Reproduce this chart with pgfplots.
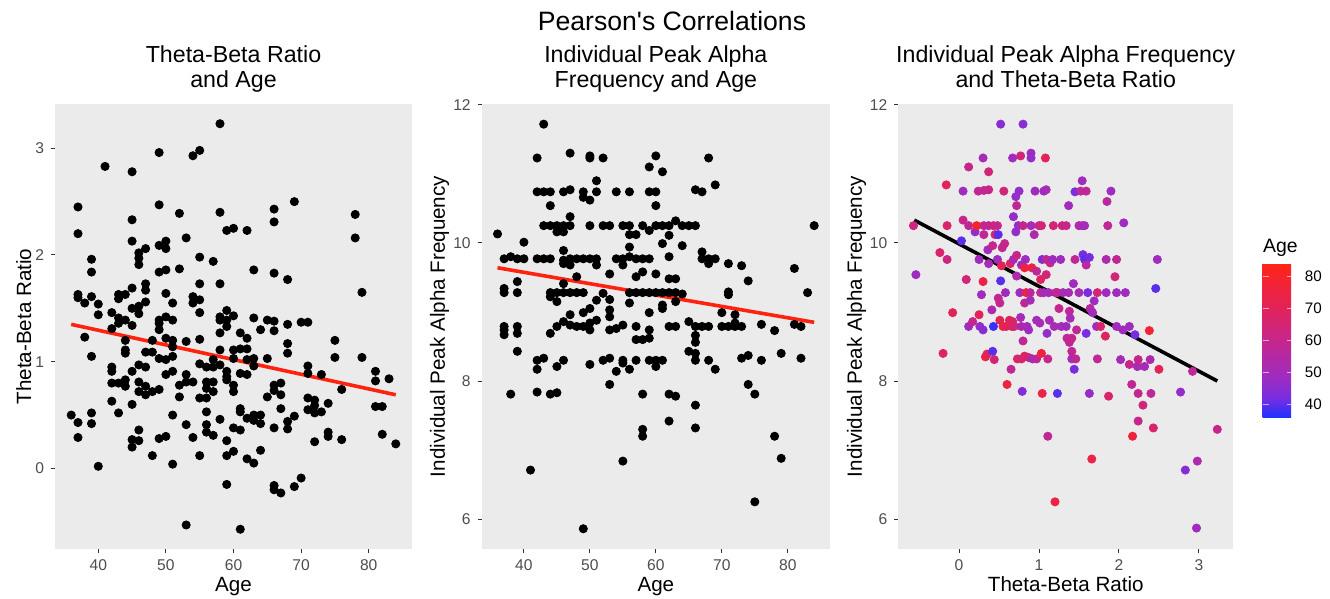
\documentclass[border=0pt]{standalone}
\usepackage{fontspec}
\setmainfont{Liberation Sans}
\usepackage{pgfplots}
\usepackage{pgfplotstable}
\pgfplotsset{compat=1.18}

\definecolor{panelbg}{RGB}{235,235,235}
\definecolor{tickgray}{RGB}{51,51,51}
\definecolor{labgray}{RGB}{77,77,77}
\definecolor{fitred}{RGB}{255,35,15}

\pgfplotsset{
  colormap={agecol}{rgb255(0pt)=(30,50,255); rgb255(1pt)=(120,45,225); rgb255(2pt)=(155,45,195);
    rgb255(4pt)=(198,38,140); rgb255(6pt)=(230,35,80); rgb255(7pt)=(243,35,52); rgb255(8pt)=(255,38,20)},
  colorbar shift/.style={},
  /pgf/number format/assume math mode=true,
  ggpanel/.style={
    scale only axis, height=222.5pt,
    axis background/.style={fill=panelbg},
    axis line style={draw=none},
    tick pos=left, tick align=outside, major tick length=2pt,
    tick style={draw=tickgray, line width=0.5pt},
    tick label style={font=\fontsize{7.8}{9}\selectfont, text=labgray},
    label style={font=\fontsize{10.3}{12}\selectfont},
    xlabel style={at={(axis description cs:0.5,-0.096)}, anchor=base},
    title style={font=\fontsize{11.6}{12.5}\selectfont, align=center,
      at={(axis description cs:0.5,1)}, anchor=south, inner sep=0pt, text depth=0pt, yshift=2pt},
  },
  dots/.style={only marks, mark=*, mark size=2.05pt, black},
  fit/.style={line width=1.8pt, no marks},
}

% age vs theta-beta ratio
\pgfplotstableread{
age tbr
36 0.50
37 2.45
37 2.20
37 1.63
37 1.60
37 0.43
37 0.29
38 1.55
38 1.23
39 1.96
39 1.84
39 1.61
39 1.05
39 0.52
39 0.42
40 1.54
40 1.44
40 0.02
41 2.83
42 1.46
42 1.31
42 0.95
42 0.91
42 0.80
42 0.63
43 1.63
43 1.59
43 1.41
43 1.36
43 0.80
43 0.52
44 1.63
44 1.39
44 1.20
44 1.11
44 1.08
44 0.83
44 0.77
45 2.78
45 2.33
45 2.13
45 1.69
45 1.50
45 1.34
45 0.91
45 0.60
45 0.27
45 0.20
46 2.02
46 1.97
46 1.91
46 1.52
46 1.45
46 0.97
46 0.81
46 0.72
46 0.36
46 0.26
47 2.06
47 1.73
47 1.67
47 1.56
47 1.09
47 0.95
47 0.77
47 0.69
48 1.20
48 1.09
48 0.72
48 0.12
49 2.96
49 2.47
49 2.09
49 1.84
49 1.39
49 1.36
49 1.30
49 1.03
49 0.74
49 0.28
50 2.13
50 2.06
50 1.86
50 1.64
50 1.42
50 1.22
50 1.02
50 0.88
50 0.30
51 1.55
51 1.39
51 1.20
51 1.14
51 1.05
51 0.91
51 0.50
51 0.04
52 2.39
52 1.87
52 0.78
52 0.67
53 2.16
53 1.19
53 0.88
53 0.81
53 0.41
53 -0.53
54 2.93
54 1.61
54 1.55
54 0.81
54 0.29
55 2.98
55 1.98
55 1.73
55 1.58
55 1.46
55 1.21
55 0.98
55 0.66
55 0.12
56 0.95
56 0.81
56 0.75
56 0.66
56 0.53
56 0.41
56 0.34
57 1.94
57 1.02
57 0.95
57 0.81
57 0.72
57 0.31
58 3.23
58 2.40
58 1.73
58 1.42
58 1.39
58 1.27
58 1.11
58 0.97
58 0.46
59 2.23
59 1.48
59 1.39
59 1.33
59 0.91
59 0.86
59 0.83
59 0.26
59 0.12
59 -0.15
60 2.25
60 1.43
60 1.11
60 1.03
60 0.78
60 0.72
60 0.38
60 0.16
61 1.27
61 1.12
61 0.89
61 0.56
61 0.53
61 0.36
61 -0.57
62 2.23
62 1.22
62 1.12
62 1.02
62 0.88
62 0.47
62 0.09
63 1.86
63 1.41
63 1.03
63 0.96
63 0.50
63 0.45
63 0.05
64 1.30
64 0.50
64 0.42
64 0.17
65 1.39
65 1.03
65 0.67
66 2.43
66 2.31
66 1.83
66 1.38
66 1.29
66 0.78
66 0.73
66 0.38
66 -0.16
66 -0.20
67 0.80
67 0.69
67 0.56
67 -0.23
68 1.77
68 1.35
68 1.17
68 1.08
68 0.44
68 0.37
69 2.50
69 0.49
69 -0.17
70 1.37
70 -0.09
71 1.37
71 0.96
71 0.89
71 0.66
71 0.55
72 0.64
72 0.59
72 0.52
72 0.25
73 0.88
73 0.53
74 0.61
74 0.34
74 0.30
75 1.20
75 1.04
76 0.74
76 0.27
78 2.38
78 2.16
79 1.65
79 1.04
81 0.91
81 0.82
81 0.58
82 0.58
82 0.32
83 0.84
84 0.23
}\tbrage

% age vs individual peak alpha frequency
\pgfplotstableread{
age iapf
36 10.13
37 9.77
37 9.34
37 9.28
37 8.79
37 8.74
37 8.67
38 9.80
38 7.81
39 9.77
39 9.44
39 9.28
39 8.79
39 8.69
39 8.43
40 10.01
40 9.77
41 6.71
42 11.23
42 10.74
42 9.77
42 8.30
42 8.17
42 7.84
43 11.72
43 10.74
43 10.25
43 9.77
43 8.33
44 10.74
44 10.54
44 10.25
44 9.77
44 9.28
44 9.22
44 8.69
44 7.81
45 10.25
45 10.16
45 9.28
45 9.15
45 8.79
45 8.21
45 7.83
46 10.74
46 10.25
46 10.16
46 9.89
46 9.75
46 9.70
46 9.41
46 9.28
46 8.86
46 8.30
47 11.30
47 10.77
47 10.38
47 10.25
47 9.77
47 9.68
47 9.28
47 8.96
47 8.81
48 9.77
48 9.51
48 9.28
48 8.79
49 10.74
49 10.66
49 9.77
49 9.28
49 8.99
49 8.79
49 5.86
50 11.26
50 11.23
50 10.62
50 10.25
50 9.77
50 9.05
50 8.84
50 8.74
50 8.24
51 10.90
51 10.74
51 9.77
51 9.68
51 9.17
51 8.88
52 11.23
52 10.25
52 9.27
52 8.30
53 10.25
53 9.55
53 9.18
53 9.03
53 8.93
53 8.74
53 8.33
53 7.95
54 10.74
54 9.77
54 8.76
54 8.14
55 10.25
55 9.77
55 9.68
55 8.81
55 8.30
55 8.26
55 6.84
56 10.74
56 10.25
56 10.12
56 9.94
56 9.80
56 9.28
56 9.13
56 8.17
57 10.12
57 9.77
57 9.51
57 9.28
57 8.79
57 8.60
57 8.30
58 10.25
58 9.77
58 9.58
58 9.28
58 8.60
58 7.81
58 7.30
58 7.20
59 11.10
59 10.74
59 10.18
59 9.77
59 9.28
59 8.99
59 8.74
59 8.62
59 8.30
60 11.26
60 10.74
60 10.54
60 10.25
60 9.55
60 9.28
60 8.30
60 8.21
61 11.03
61 10.25
61 9.99
61 9.28
61 9.10
61 9.05
61 8.30
62 10.25
62 10.11
62 9.80
62 9.48
62 9.28
62 8.79
62 7.81
62 7.42
63 10.32
63 9.48
63 9.28
63 9.15
63 8.79
63 7.78
64 10.25
64 9.96
64 9.26
65 10.25
65 8.86
65 8.43
66 10.77
66 10.25
66 8.79
66 8.66
66 8.56
66 8.40
66 8.30
66 7.65
66 7.32
67 10.74
67 9.87
67 9.77
67 8.79
68 11.23
68 9.77
68 9.70
68 8.79
68 8.30
69 10.84
69 9.77
69 8.17
70 8.99
70 8.79
71 9.70
71 9.29
71 9.25
71 8.79
72 8.96
72 8.84
72 8.79
73 9.67
73 8.79
73 8.33
74 9.45
74 8.37
74 7.95
75 7.81
75 6.25
76 8.82
76 8.30
78 8.73
78 7.20
79 8.40
79 6.88
81 9.63
81 8.82
82 8.79
82 8.33
83 9.28
84 10.25
}\iapfage

% theta-beta ratio vs individual peak alpha frequency, coloured by age
\pgfplotstableread{
tbr iapf age
-0.57 10.25 63
-0.54 9.54 49
-0.24 9.86 67
-0.20 8.40 69
-0.16 10.84 71
-0.15 10.25 67
-0.15 9.76 62
-0.08 8.99 71
0.03 10.03 40
0.05 10.75 49
0.05 10.33 60
0.09 9.47 64
0.12 11.10 60
0.12 10.25 58
0.12 8.79 49
0.17 8.86 60
0.20 10.16 47
0.22 10.25 80
0.24 10.75 58
0.25 9.76 49
0.25 8.96 71
0.26 8.79 47
0.28 9.25 49
0.30 11.23 51
0.30 8.74 45
0.30 9.44 74
0.31 10.25 60
0.31 10.12 58
0.31 10.76 58
0.33 8.35 74
0.35 8.39 71
0.36 9.90 49
0.37 11.03 64
0.37 10.25 58
0.37 10.77 60
0.37 9.70 51
0.41 9.03 53
0.42 9.96 60
0.43 10.25 62
0.42 8.43 40
0.43 8.79 38
0.44 8.31 64
0.45 10.12 64
0.48 10.25 60
0.48 9.76 49
0.49 10.12 40
0.49 9.20 58
0.51 8.88 71
0.51 9.13 60
0.52 11.72 45
0.52 9.45 40
0.53 9.67 71
0.54 9.93 58
0.55 8.79 74
0.56 10.75 64
0.57 9.99 60
0.58 9.28 49
0.59 8.79 71
0.60 7.95 74
0.63 8.88 69
0.64 9.70 69
0.65 8.17 58
0.66 8.79 71
0.67 11.23 49
0.67 8.86 69
0.68 10.38 47
0.68 9.76 51
0.69 8.79 64
0.71 10.67 47
0.71 10.16 47
0.72 10.54 58
0.72 9.82 60
0.72 9.52 53
0.73 8.32 69
0.74 10.25 47
0.75 10.75 47
0.76 9.28 49
0.77 11.26 64
0.77 8.92 51
0.78 8.79 53
0.78 8.32 64
0.78 9.68 49
0.79 7.85 44
0.80 11.72 45
0.80 10.25 60
0.80 8.58 58
0.82 9.64 76
0.82 8.36 69
0.82 9.13 58
0.83 9.76 49
0.84 9.28 78
0.85 8.79 51
0.87 8.34 64
0.87 8.74 49
0.89 9.28 58
0.89 9.17 51
0.90 11.30 49
0.90 11.23 47
0.90 10.25 51
0.91 9.64 74
0.92 8.32 51
0.94 10.12 53
0.95 10.75 49
0.97 9.59 58
0.97 8.88 51
0.97 8.32 58
1.00 10.25 60
1.01 8.84 51
1.02 9.47 69
1.02 9.28 58
1.03 8.40 76
1.03 10.25 64
1.04 9.76 43
1.04 7.82 74
1.06 10.75 49
1.06 9.28 51
1.08 11.23 71
1.09 10.77 51
1.09 9.76 58
1.09 9.54 64
1.10 8.69 47
1.11 8.32 60
1.11 7.20 58
1.12 9.28 51
1.13 8.88 51
1.14 9.71 60
1.17 9.76 49
1.18 10.25 64
1.19 8.79 51
1.20 6.25 74
1.21 9.28 53
1.23 7.82 40
1.23 9.28 60
1.25 9.05 60
1.27 9.76 49
1.28 8.79 51
1.29 10.25 64
1.30 9.28 51
1.34 10.25 60
1.34 8.79 49
1.35 8.62 58
1.37 10.54 49
1.37 9.28 51
1.38 9.01 58
1.38 8.56 58
1.39 8.91 51
1.41 8.62 60
1.41 8.43 58
1.41 8.32 51
1.43 9.41 49
1.44 8.17 42
1.45 10.74 42
1.45 9.76 58
1.46 8.32 58
1.47 8.74 58
1.50 10.25 53
1.50 9.28 51
1.52 10.75 58
1.54 10.90 49
1.54 10.25 51
1.55 9.83 42
1.57 9.76 40
1.57 10.25 51
1.59 9.68 56
1.59 10.75 58
1.59 8.69 42
1.61 9.28 42
1.63 9.79 42
1.63 7.82 47
1.64 9.05 56
1.66 6.87 74
1.67 8.99 49
1.69 9.16 49
1.72 8.79 49
1.73 9.28 64
1.73 8.32 58
1.77 8.79 67
1.83 8.65 69
1.84 9.76 53
1.84 9.28 49
1.85 10.60 56
1.86 10.25 58
1.87 7.78 67
1.90 10.75 49
1.95 9.51 64
1.97 9.76 58
1.97 8.79 49
1.97 9.28 49
2.02 8.31 51
2.06 10.29 49
2.08 9.28 49
2.05 8.74 49
2.13 8.79 49
2.13 8.24 60
2.16 7.95 58
2.17 7.20 76
2.20 8.67 42
2.23 8.21 51
2.24 8.31 60
2.24 7.82 60
2.24 7.42 60
2.30 7.65 64
2.32 8.21 51
2.38 8.73 78
2.39 8.31 53
2.40 7.82 58
2.43 7.32 67
2.46 9.34 40
2.48 9.76 49
2.50 8.17 71
2.77 7.84 47
2.83 6.71 44
2.92 8.14 58
2.98 6.84 53
2.97 5.87 49
3.23 7.30 60
}\iapftbr

\begin{document}
\begin{tikzpicture}
\useasboundingbox (0,0) rectangle (665pt,299.5pt);

\node[anchor=base, font=\fontsize{13.3}{15}\selectfont, inner sep=0pt] at (336pt,284pt) {Pearson\textquotesingle s Correlations};

\begin{axis}[ggpanel,
  at={(27.5pt,25pt)}, anchor=south west, width=178.5pt,
  xmin=33.6, xmax=86.4, ymin=-0.755, ymax=3.415,
  xtick={40,50,60,70,80}, ytick={0,1,2,3},
  xlabel={Age}, ylabel={Theta-Beta Ratio},
  ylabel style={at={(axis description cs:-0.0672,0.5)}, anchor=base},
  title={Theta-Beta Ratio\\and Age},
]
\addplot[dots] table[x=age, y=tbr] {\tbrage};
\addplot[fit, fitred] coordinates {(36,1.35) (84,0.69)};
\end{axis}

\begin{axis}[ggpanel,
  at={(240.85pt,25pt)}, anchor=south west, width=174.15pt,
  xmin=33.6, xmax=86.4, ymin=5.567, ymax=12.012,
  xtick={40,50,60,70,80}, ytick={6,8,10,12},
  xlabel={Age}, ylabel={Individual Peak Alpha Frequency},
  ylabel style={at={(axis description cs:-0.1054,0.5)}, anchor=base},
  title={Individual Peak Alpha\\Frequency and Age},
]
\addplot[dots] table[x=age, y=iapf] {\iapfage};
\addplot[fit, fitred] coordinates {(36,9.64) (84,8.85)};
\end{axis}

\begin{axis}[ggpanel,
  at={(449.15pt,25pt)}, anchor=south west, width=167.5pt,
  xmin=-0.76, xmax=3.43, ymin=5.567, ymax=12.012,
  xtick={0,1,2,3}, ytick={6,8,10,12},
  xlabel={Theta-Beta Ratio}, ylabel={Individual Peak Alpha Frequency},
  ylabel style={at={(axis description cs:-0.1084,0.5)}, anchor=base},
  title={Individual Peak Alpha Frequency\\and Theta-Beta Ratio},
  colormap name=agecol, point meta min=36, point meta max=84,
  colorbar,
  colorbar style={
    at={(parent axis.north east)}, anchor=north west,
    xshift=14.7pt, yshift=-79.65pt,
    scale only axis, width=15.3pt, height=77pt,
    axis line style={draw=none},
    ytick={40,50,60,70,80},
    ytick pos=both, yticklabel pos=right,
    tick align=inside, major tick length=3pt,
    tick style={draw=white, draw opacity=0.6, line width=0.6pt},
    yticklabel style={font=\fontsize{7.6}{9}\selectfont, text=black, xshift=2.3pt},
    title={Age},
    title style={at={(0,1)}, anchor=base west, inner sep=0pt, yshift=-0.5pt,
      font=\fontsize{9.7}{11}\selectfont},
  },
]
\addplot[scatter, only marks, mark=*, mark size=2.05pt, scatter src=explicit,
  scatter/use mapped color={draw=mapped color, fill=mapped color}]
  table[x=tbr, y=iapf, meta=age] {\iapftbr};
\addplot[fit, black] coordinates {(-0.56,10.33) (3.23,8.0)};
\end{axis}
\end{tikzpicture}
\end{document}
